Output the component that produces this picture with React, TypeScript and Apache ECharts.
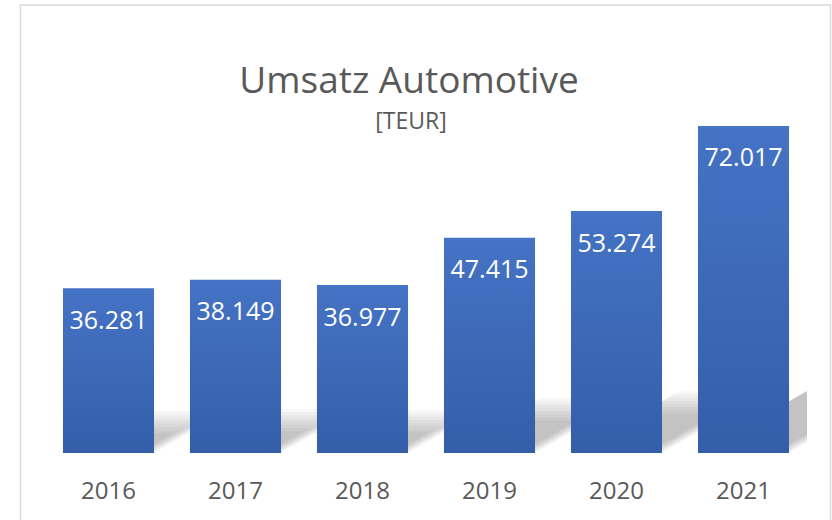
import React, { useEffect, useRef } from "react";
import * as echarts from "echarts";

const years: string[] = ["2016", "2017", "2018", "2019", "2020", "2021"];
const revenue: number[] = [36281, 38149, 36977, 47415, 53274, 72017];
const titleText = "Umsatz Automotive";
const unitText = "[TEUR]";

const fmt = (v: number) => {
  const s = Math.round(v).toString();
  return s.replace(/\B(?=(\d{3})+(?!\d))/g, ".");
};

export default function App() {
  const ref = useRef<HTMLDivElement>(null);
  useEffect(() => {
    if (!ref.current) return;
    const chart = echarts.init(ref.current, undefined, { renderer: "svg" });
    const FONT = "'Open Sans', sans-serif";
    chart.setOption({
      animation: false,
      backgroundColor: "#ffffff",
      grid: { left: 45, right: 25, top: 89.75, bottom: 67, containLabel: false },
      xAxis: {
        type: "category",
        data: years,
        axisLine: { show: false },
        axisTick: { show: false },
        axisLabel: { color: "#595959", fontSize: 24, fontFamily: FONT, margin: 24 },
      },
      yAxis: {
        type: "value",
        min: 0,
        max: 80000,
        show: false,
        splitLine: { show: false },
      },
      graphic: [
        {
          type: "rect",
          shape: { x: 20.5, y: 5, width: 810, height: 600 },
          style: { fill: "none", stroke: "#d9d9d9", lineWidth: 1.5 },
          silent: true,
        },
        {
          type: "text",
          x: 409,
          y: 78,
          style: {
            text: titleText,
            fill: "#595959",
            fontSize: 37,
            fontFamily: FONT,
            textAlign: "center",
            textVerticalAlign: "middle",
          },
        },
        {
          type: "text",
          x: 411,
          y: 120,
          style: {
            text: unitText,
            fill: "#595959",
            fontSize: 23,
            fontFamily: FONT,
            textAlign: "center",
            textVerticalAlign: "middle",
          },
        },
      ],
      series: [
        {
          type: "custom",
          z: 1,
          clip: true,
          silent: true,
          data: revenue.map((v, i) => [i, v]),
          renderItem: (params: any, api: any) => {
            const base = api.coord([api.value(0), 0]);
            const top = api.coord([api.value(0), api.value(1)]);
            const bw = api.size([1, 0])[0] * 0.717;
            const h = base[1] - top[1];
            const slope = 1.76;
            const dy = h * 0.255;
            const xl = base[0] - bw / 2;
            const xr = base[0] + bw / 2;
            const y0 = base[1];
            const layers: any[] = [];
            const n = 8;
            for (let k = 0; k < n; k++) {
              const s = k * 2.2;
              const yt = y0 - dy + k * 3.2;
              const rise = y0 - yt;
              layers.push({
                type: "polygon",
                shape: {
                  points: [
                    [xl, y0],
                    [xr - s, y0],
                    [xr - s + rise * slope, yt],
                    [xl + rise * slope, yt],
                  ],
                },
                style: { fill: "rgba(0,0,0,0.03)" },
              });
            }
            return { type: "group", children: layers };
          },
        },
        {
          type: "bar",
          z: 2,
          data: revenue,
          barWidth: "71.7%",
          itemStyle: {
            color: new echarts.graphic.LinearGradient(0, 0, 0, 1, [
              { offset: 0, color: "#4573C5" },
              { offset: 1, color: "#345EA8" },
            ]),
          },
          label: {
            show: true,
            position: "insideTop",
            distance: 18,
            color: "#ffffff",
            fontSize: 25,
            lineHeight: 25,
            fontFamily: FONT,
            formatter: (p: any) => fmt(p.value),
          },
        },
      ],
    });
    return () => chart.dispose();
  }, []);
  return (
    <div
      ref={ref}
      style={{ position: "absolute", left: 0, top: 0, width: 832, height: 520 }}
    />
  );
}
